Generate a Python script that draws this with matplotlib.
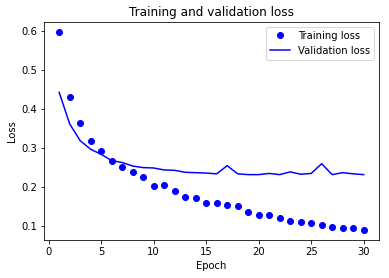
import matplotlib
matplotlib.use("Agg")
import matplotlib.pyplot as plt

# Valeurs
epochs = list(range(1, 31))
loss = [0.599, 0.432, 0.365, 0.319, 0.293, 0.268, 0.252, 0.239, 0.227, 0.204,
        0.207, 0.191, 0.175, 0.173, 0.159, 0.160, 0.156, 0.153, 0.136, 0.129,
        0.129, 0.121, 0.114, 0.112, 0.109, 0.104, 0.099, 0.096, 0.096, 0.091]
val_loss = [0.444, 0.363, 0.320, 0.298, 0.285, 0.269, 0.264, 0.255, 0.251, 0.250,
            0.245, 0.244, 0.239, 0.238, 0.237, 0.235, 0.256, 0.235, 0.233, 0.233,
            0.236, 0.233, 0.240, 0.234, 0.236, 0.261, 0.233, 0.238, 0.235, 0.233]

fig = plt.figure(figsize=(389 / 72, 278 / 72), dpi=72)
plt.subplots_adjust(left=0.113, right=0.974, top=0.921, bottom=0.137)

plt.plot(epochs, loss, 'bo', label='Training loss')
plt.plot(epochs, val_loss, 'b', label='Validation loss')
plt.title('Training and validation loss')
plt.xlabel('Epoch')
plt.ylabel('Loss')
plt.legend()

plt.savefig('out.png', dpi=72)
